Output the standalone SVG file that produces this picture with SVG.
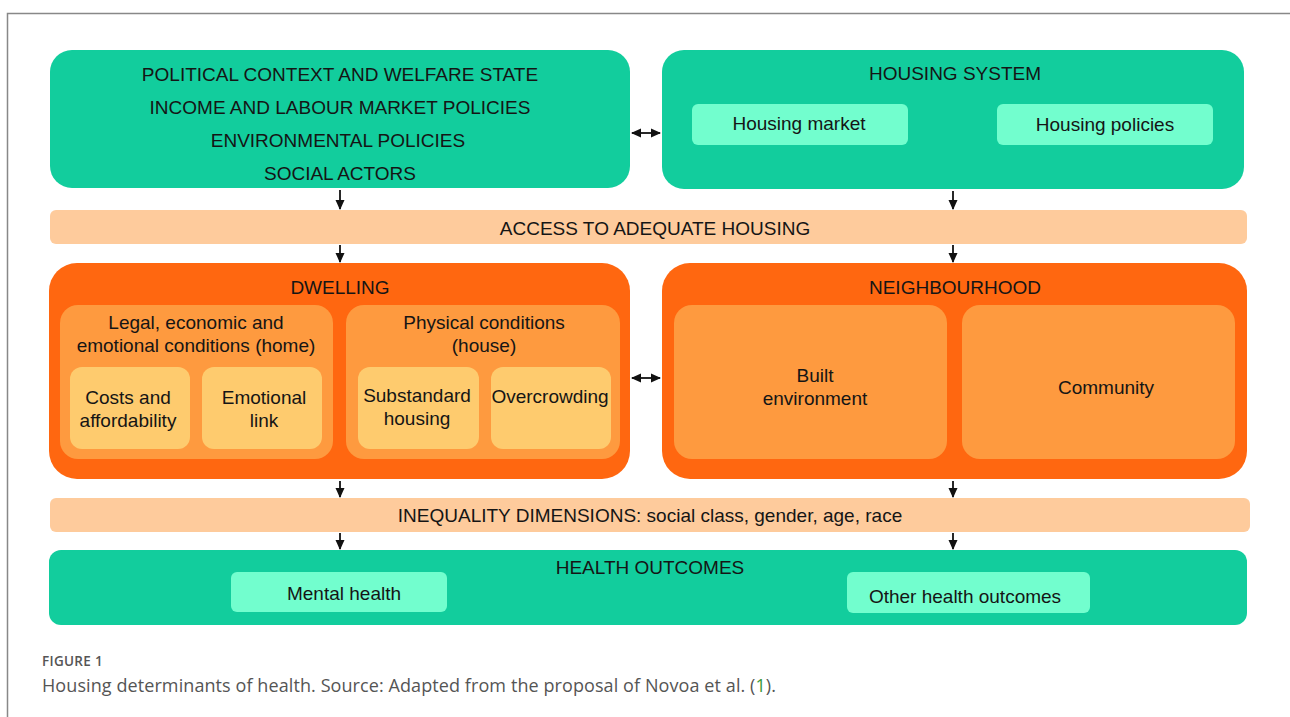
<svg xmlns="http://www.w3.org/2000/svg" width="1290" height="717" viewBox="0 0 1290 717">
  <style>
    .t { font-family: "Liberation Sans", Arial, sans-serif; font-size: 19px; fill: #151515; text-anchor: middle; }
    .green { fill: #12CD9D; }
    .mint { fill: #72FECE; }
    .orange { fill: #FF6710; }
    .mid { fill: #FE9A3F; }
    .light { fill: #FECB6E; }
    .band { fill: #FECB9C; }
    .edge { stroke: #111; stroke-width: 1.8; fill: none; }
    .cap { font-family: "Open Sans", "Noto Sans", sans-serif; fill: #555; }
  </style>
  <defs>
    <marker id="head" viewBox="0 0 10 10" refX="9" refY="5" markerWidth="10" markerHeight="10" markerUnits="userSpaceOnUse" orient="auto-start-reverse">
      <path d="M0,0.5 L10,5 L0,9.5 z" fill="#111"/>
    </marker>
  </defs>

  <rect width="1290" height="717" fill="#fff"/>
  <!-- frame -->
  <path d="M7.5,717 V13.5 H1290" fill="none" stroke="#888" stroke-width="1.5"/>

  <g id="policies">
    <rect class="green" x="50" y="50" width="580" height="138" rx="22"/>
    <text class="t" x="340" y="81">POLITICAL CONTEXT AND WELFARE STATE</text>
    <text class="t" x="340" y="114">INCOME AND LABOUR MARKET POLICIES</text>
    <text class="t" x="338" y="147">ENVIRONMENTAL POLICIES</text>
    <text class="t" x="340" y="180">SOCIAL ACTORS</text>
  </g>

  <g id="housing-system">
    <rect class="green" x="662" y="50" width="582" height="139" rx="22"/>
    <text class="t" x="955" y="80">HOUSING SYSTEM</text>
    <rect class="mint" x="692" y="104" width="216" height="41" rx="6"/>
    <text class="t" x="799" y="130">Housing market</text>
    <rect class="mint" x="997" y="104" width="216" height="41" rx="6"/>
    <text class="t" x="1105" y="131">Housing policies</text>
  </g>

  <g id="access">
    <rect class="band" x="50" y="210" width="1197" height="34" rx="6"/>
    <text class="t" x="655" y="235">ACCESS TO ADEQUATE HOUSING</text>
  </g>

  <g id="dwelling">
    <rect class="orange" x="49" y="263" width="581" height="216" rx="28"/>
    <text class="t" x="340" y="294">DWELLING</text>
    <rect class="mid" x="60" y="305" width="273" height="154" rx="18"/>
    <text class="t" x="196" y="329">Legal, economic and</text>
    <text class="t" x="196" y="352">emotional conditions (home)</text>
    <rect class="mid" x="346" y="305" width="274" height="154" rx="18"/>
    <text class="t" x="484" y="329">Physical conditions</text>
    <text class="t" x="484" y="352">(house)</text>
    <rect class="light" x="70" y="367" width="120" height="82" rx="12"/>
    <text class="t" x="128" y="404">Costs and</text>
    <text class="t" x="128" y="427">affordability</text>
    <rect class="light" x="202" y="367" width="120" height="82" rx="12"/>
    <text class="t" x="264" y="404">Emotional</text>
    <text class="t" x="264" y="427">link</text>
    <rect class="light" x="358" y="367" width="121" height="82" rx="12"/>
    <text class="t" x="417" y="402">Substandard</text>
    <text class="t" x="417" y="425">housing</text>
    <rect class="light" x="491" y="367" width="120" height="82" rx="12"/>
    <text class="t" x="550" y="403">Overcrowding</text>
  </g>

  <g id="neighbourhood">
    <rect class="orange" x="662" y="263" width="585" height="216" rx="28"/>
    <text class="t" x="955" y="294">NEIGHBOURHOOD</text>
    <rect class="mid" x="674" y="305" width="273" height="154" rx="18"/>
    <text class="t" x="815" y="382">Built</text>
    <text class="t" x="815" y="405">environment</text>
    <rect class="mid" x="962" y="305" width="273" height="154" rx="18"/>
    <text class="t" x="1106" y="394">Community</text>
  </g>

  <g id="inequality">
    <rect class="band" x="50" y="498" width="1200" height="34" rx="6"/>
    <text class="t" x="650" y="522">INEQUALITY DIMENSIONS: social class, gender, age, race</text>
  </g>

  <g id="health-outcomes">
    <rect class="green" x="49" y="550" width="1198" height="75" rx="12"/>
    <text class="t" x="650" y="574">HEALTH OUTCOMES</text>
    <rect class="mint" x="231" y="572" width="216" height="40" rx="6"/>
    <text class="t" x="344" y="600">Mental health</text>
    <rect class="mint" x="847" y="572" width="243" height="41" rx="6"/>
    <text class="t" x="965" y="603">Other health outcomes</text>
  </g>

  <g id="connectors">
    <path class="edge" d="M340,190 V209" marker-end="url(#head)"/>
    <path class="edge" d="M953,191 V209" marker-end="url(#head)"/>
    <path class="edge" d="M340,245 V262" marker-end="url(#head)"/>
    <path class="edge" d="M953,245 V262" marker-end="url(#head)"/>
    <path class="edge" d="M340,481 V497" marker-end="url(#head)"/>
    <path class="edge" d="M953,481 V497" marker-end="url(#head)"/>
    <path class="edge" d="M340,533 V549" marker-end="url(#head)"/>
    <path class="edge" d="M953,533 V549" marker-end="url(#head)"/>
    <path class="edge" d="M632,133 H660" marker-start="url(#head)" marker-end="url(#head)"/>
    <path class="edge" d="M632,378 H660" marker-start="url(#head)" marker-end="url(#head)"/>
  </g>

  <g id="caption">
    <text class="cap" x="42" y="666" font-size="13.5" font-weight="600" letter-spacing="0.3">FIGURE 1</text>
    <text class="cap" x="42" y="692" font-size="18" textLength="734" lengthAdjust="spacing">Housing determinants of health. Source: Adapted from the proposal of Novoa et al. (<tspan fill="#3a9a3a">1</tspan>).</text>
  </g>
</svg>
